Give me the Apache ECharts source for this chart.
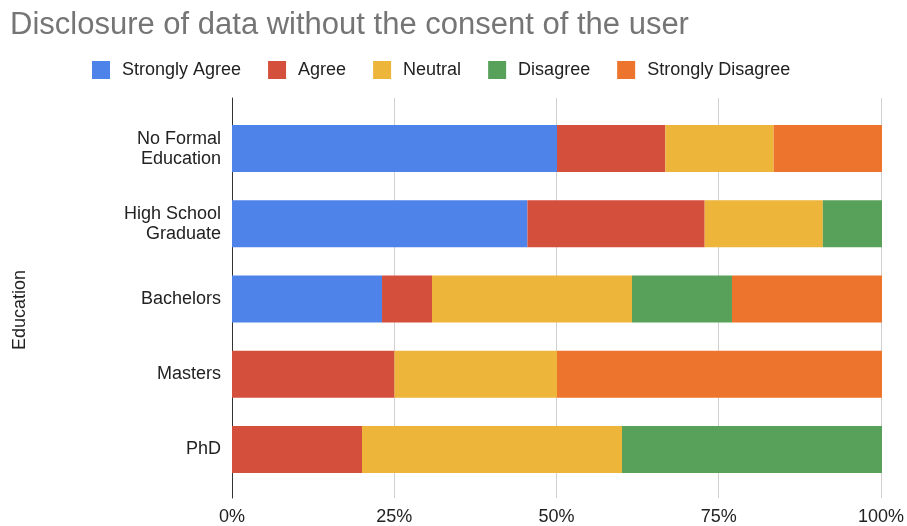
<!DOCTYPE html>
<html>
<head>
<meta charset="utf-8">
<script src="https://cdn.jsdelivr.net/npm/echarts@6/dist/echarts.min.js"></script>
<style>
  html, body { margin: 0; padding: 0; background: #fff; }
  #chart { width: 907px; height: 526px; }
</style>
</head>
<body>
<div id="chart"></div>
<script>
// Education levels, top to bottom
const categories = ['No Formal\nEducation', 'High School\nGraduate', 'Bachelors', 'Masters', 'PhD'];

// Share of respondents (%) per answer
const stronglyAgree    = [50, 45.45, 23.08, 0, 0];
const agree            = [16.67, 27.27, 7.69, 25, 20];
const neutral          = [16.67, 18.18, 30.77, 25, 40];
const disagree         = [0, 9.1, 15.38, 0, 40];
const stronglyDisagree = [16.66, 0, 23.08, 50, 0];

const seriesNames = ['Strongly Agree', 'Agree', 'Neutral', 'Disagree', 'Strongly Disagree'];
const seriesData = [stronglyAgree, agree, neutral, disagree, stronglyDisagree];
const colors = ['#4e83ea', '#d4503d', '#eeb53b', '#58a15a', '#ec742c'];

const xTicks = [0, 25, 50, 75, 100];

const FONT = '"Liberation Sans", Arial, Helvetica, sans-serif';

const chart = echarts.init(document.getElementById('chart'), null, { renderer: 'canvas' });

chart.setOption({
  animation: false,
  color: colors,
  textStyle: { fontFamily: FONT },
  title: {
    text: 'Disclosure of data without the consent of the user',
    left: 5,
    top: 5,
    textStyle: { fontFamily: FONT, fontSize: 31, fontWeight: 'normal', color: '#757575' }
  },
  legend: {
    left: 87,
    top: 56,
    icon: 'rect',
    itemWidth: 18,
    itemHeight: 18,
    itemGap: 27,
    data: seriesNames,
    textStyle: { fontFamily: FONT, fontSize: 18, color: '#222', padding: [0, 0, 0, 7] }
  },
  grid: [
    // frame: gridlines, baseline and tick labels
    { left: 232, right: 25, top: 98, bottom: 28 },
    // bars
    { left: 232, right: 25, top: 111, bottom: 39 }
  ],
  xAxis: [
    {
      gridIndex: 0,
      type: 'value',
      min: xTicks[0],
      max: xTicks[xTicks.length - 1],
      interval: 25,
      axisLine: { show: false },
      axisTick: { show: false },
      splitLine: { show: true, lineStyle: { color: '#d0d0d0', width: 1 } },
      axisLabel: {
        margin: 10,
        fontFamily: FONT,
        fontSize: 18,
        color: '#222',
        formatter: '{value}%'
      }
    },
    {
      gridIndex: 1,
      type: 'value',
      min: 0,
      max: 100,
      show: false
    }
  ],
  yAxis: [
    {
      gridIndex: 0,
      type: 'category',
      data: categories,
      inverse: true,
      axisLine: { show: true, lineStyle: { color: '#333', width: 1 } },
      axisTick: { show: false },
      axisLabel: { show: false },
      splitLine: { show: false },
      name: 'Education',
      nameLocation: 'middle',
      nameGap: 203,
      nameTextStyle: { fontFamily: FONT, fontSize: 18, color: '#222', padding: [0, 24, 0, 0] }
    },
    {
      gridIndex: 1,
      type: 'category',
      data: categories,
      inverse: true,
      axisLine: { show: false },
      axisTick: { show: false },
      splitLine: { show: false },
      axisLabel: {
        margin: 11,
        fontFamily: FONT,
        fontSize: 18,
        lineHeight: 20,
        color: '#222'
      }
    }
  ],
  series: seriesNames.map((name, i) => ({
    name: name,
    type: 'bar',
    stack: 'total',
    xAxisIndex: 1,
    yAxisIndex: 1,
    barWidth: 47,
    data: seriesData[i],
    itemStyle: { color: colors[i] }
  }))
});
</script>
</body>
</html>
